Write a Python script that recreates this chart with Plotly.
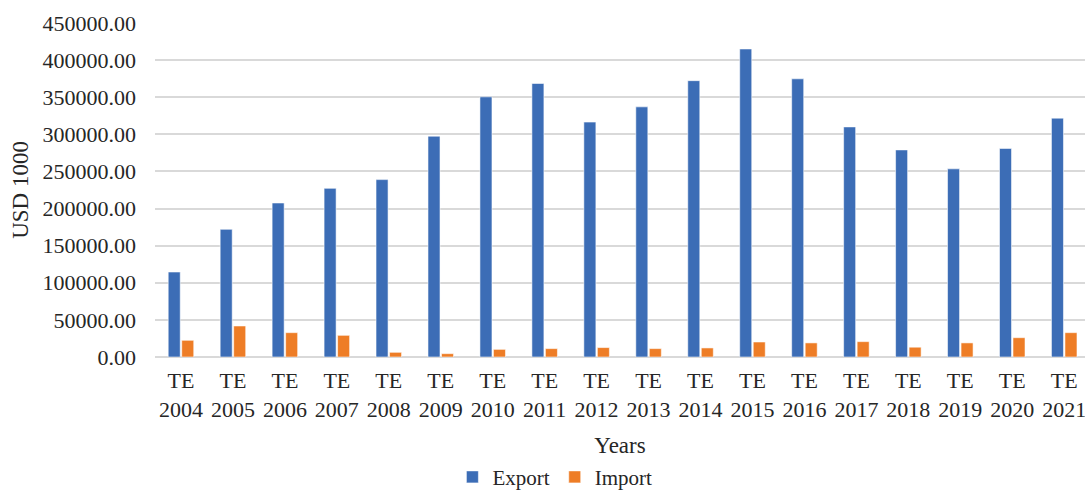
import plotly.graph_objects as go

years = ["2004", "2005", "2006", "2007", "2008", "2009", "2010", "2011", "2012",
         "2013", "2014", "2015", "2016", "2017", "2018", "2019", "2020", "2021"]
categories = ["TE<br>" + y for y in years]
export_vals = [114500, 172000, 207500, 227200, 239000, 297500, 350500, 368500, 316500,
               337000, 372300, 415000, 374800, 310000, 279000, 253500, 281000, 321800]
import_vals = [22500, 41800, 32800, 29200, 6300, 4500, 10300, 11300, 12700,
               11300, 12200, 20200, 19000, 20700, 13200, 19000, 26000, 32800]
y_ticks = [0, 50000, 100000, 150000, 200000, 250000, 300000, 350000, 400000, 450000]
y_tick_text = [f"{v:.2f}" for v in y_ticks]

FONT = "Liberation Serif"
TXT = "#262626"

fig = go.Figure()
fig.add_trace(go.Bar(name="Export", x=categories, y=export_vals,
                     marker=dict(color="#3C6DB6", line=dict(color="rgba(255,255,255,0.55)", width=1))))
fig.add_trace(go.Bar(name="Import", x=categories, y=import_vals,
                     marker=dict(color="#EE7D26", line=dict(color="rgba(255,255,255,0.55)", width=1))))

fig.update_layout(
    width=1085, height=491,
    margin=dict(l=155, r=0, t=23, b=134, autoexpand=False),
    paper_bgcolor="white", plot_bgcolor="white",
    barmode="group", bargap=0.48, bargroupgap=0.11,
    font=dict(family=FONT, size=22, color=TXT),
    showlegend=True,
    legend=dict(orientation="h", x=0.43, xanchor="center", y=-0.36, yanchor="middle",
                font=dict(family=FONT, size=21, color=TXT), itemwidth=30,
                traceorder="normal"),
)
fig.update_xaxes(
    type="category", range=[-0.5, 17.4],
    showgrid=False, showline=False, ticks="", ticklabelstandoff=8,
    tickfont=dict(family=FONT, size=22, color=TXT),
    title=dict(text="Years", font=dict(family=FONT, size=23, color=TXT), standoff=16),
    automargin=False,
)
fig.update_yaxes(
    range=[0, 450000], tickvals=y_ticks, ticktext=y_tick_text,
    showgrid=True, gridcolor="#D9D9D9", gridwidth=1.5,
    zeroline=True, zerolinecolor="#D9D9D9", zerolinewidth=1.5,
    showline=False, ticks="", ticklabelstandoff=18,
    tickfont=dict(family=FONT, size=22, color=TXT),
    title=dict(text="USD 1000", font=dict(family=FONT, size=23, color=TXT), standoff=7),
    automargin=False,
)

fig.write_html("out.html")
